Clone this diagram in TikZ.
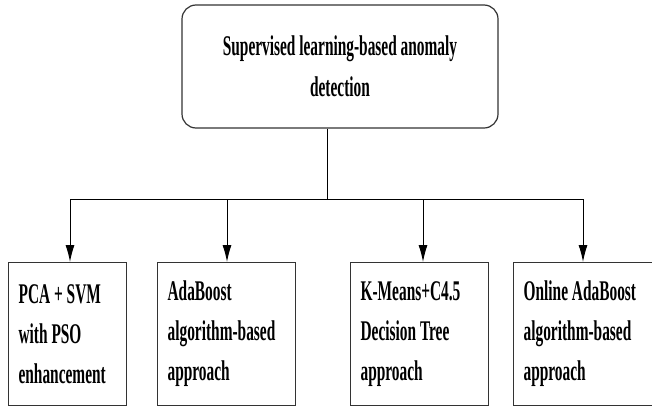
\documentclass[tikz,border=0pt]{standalone}
\usepackage{fontspec}
\setmainfont{Liberation Serif}[FakeStretch=0.54]
\usetikzlibrary{arrows.meta}
\tikzset{
  rootbox/.style={draw=black!80, line width=1.2pt, rounded corners=14pt,
    minimum width=316pt, minimum height=123pt, align=center,
    font=\fontsize{28.5}{41}\selectfont\bfseries},
  leafbox/.style={draw=black!80, line width=1.2pt, anchor=north west,
    minimum height=143pt, align=left, inner xsep=10pt, inner ysep=0pt,
    font=\fontsize{28.5}{40}\selectfont\bfseries,
    execute at begin node={\spaceskip=0pt\xspaceskip=0pt}},
  link/.style={draw=black, line width=1pt},
  arrowlink/.style={link, -{Latex[length=17pt,width=9pt]}}
}
\begin{document}
\begin{tikzpicture}[x=1pt,y=-1pt]
  \clip (0,0) rectangle (652,407);
  \useasboundingbox (0,0) rectangle (652,407);
  \fill[white] (0,0) rectangle (652,407);

  % root of the tree
  \node[rootbox] (root) at (340,66.5)
    {Supervised learning-based anomaly\\detection};

  % leaf boxes
  \node[leafbox, minimum width=118pt, text width=98pt] (pca) at (8,262)
    {PCA + SVM\\with PSO\\enhancement};
  \node[leafbox, minimum width=138pt, text width=118pt] (ada) at (157,262)
    {AdaBoost\\algorithm-based\\approach};
  \node[leafbox, minimum width=138pt, text width=118pt] (kmc) at (350,262)
    {K-Means+C4.5\\Decision Tree\\approach};
  \node[leafbox, minimum width=148pt, text width=128pt] (oada) at (513,262)
    {Online AdaBoost\\algorithm-based\\approach};

  % bus and branch points
  \coordinate (hub) at (327,199);
  \coordinate (t1) at (70,199);
  \coordinate (t2) at (227,199);
  \coordinate (t3) at (423,199);
  \coordinate (t4) at (583,199);

  \draw[link] (root.south -| hub) -- (hub);
  \draw[link] (t1) -- (t4);
  \draw[arrowlink] (t1) -- (t1 |- pca.north);
  \draw[arrowlink] (t2) -- (t2 |- ada.north);
  \draw[arrowlink] (t3) -- (t3 |- kmc.north);
  \draw[arrowlink] (t4) -- (t4 |- oada.north);
\end{tikzpicture}
\end{document}
